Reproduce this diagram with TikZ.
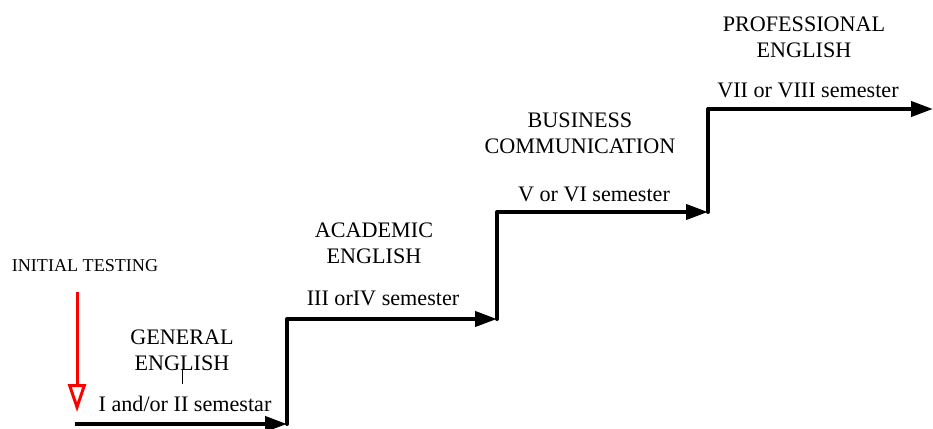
\documentclass[tikz,border=0pt]{standalone}
\usepackage{fontspec}
\setmainfont{Liberation Serif}
\usetikzlibrary{positioning,arrows.meta}

\begin{document}
\begin{tikzpicture}[
  x=0.02cm, y=-0.02cm,
  stair/.style={line width=0.08cm, -{Triangle[length=0.44cm, width=0.3cm]}},
  riser/.style={line width=0.08cm, line cap=round},
  level/.style={font=\fontsize{12.6}{14.7}\selectfont, align=center, inner sep=0pt},
  term/.style={font=\fontsize{12.6}{14.7}\selectfont, inner sep=0pt},
  test/.style={red, line width=0.06cm,
               -{Triangle[open, length=0.56cm, width=0.36cm, fill=white]}}
]
  \useasboundingbox (0,0) rectangle (933,429);

  % corners of the staircase
  \coordinate (s0) at (75,424);
  \coordinate (c1) at (287,424);
  \coordinate (c1t) at (287,319);
  \coordinate (c2) at (497,319);
  \coordinate (c2t) at (497,212);
  \coordinate (c3) at (708,212);
  \coordinate (c3t) at (708,109);
  \coordinate (c4) at (933,109);

  % steps
  \draw[stair] (s0) -- (c1);
  \draw[riser] (c1) -- (c1t);
  \draw[stair] (c1t) -- (c2);
  \draw[riser] (c2) -- (c2t);
  \draw[stair] (c2t) -- (c3);
  \draw[riser] (c3) -- (c3t);
  \draw[stair] (c3t) -- (c4);

  % initial testing
  \node[font=\fontsize{10.3}{10.3}\selectfont, inner sep=0pt] (init) at (85,266) {INITIAL TESTING};
  \coordinate (t0) at (77,292);
  \coordinate (t1) at (77,412);
  \draw[test] (t0) -- (t1);

  % general english
  \node[level] (gen) at (182,350) {GENERAL\\ENGLISH};
  \node[term] (gensem) at (185,404) {I and/or II semestar};
  \draw[thin] (182,369) -- (182,384);

  % academic english
  \node[level] (acad) at (374,243) {ACADEMIC\\ENGLISH};
  \node[term] (acadsem) at (383,298) {III orIV semester};

  % business communication
  \node[level] (bus) at (580,133) {BUSINESS\\COMMUNICATION};
  \node[term] (bussem) at (594,194) {V or VI semester};

  % professional english
  \node[level] (prof) at (804,37) {PROFESSIONAL\\ENGLISH};
  \node[term] (profsem) at (808,90) {VII or VIII semester};
\end{tikzpicture}
\end{document}
